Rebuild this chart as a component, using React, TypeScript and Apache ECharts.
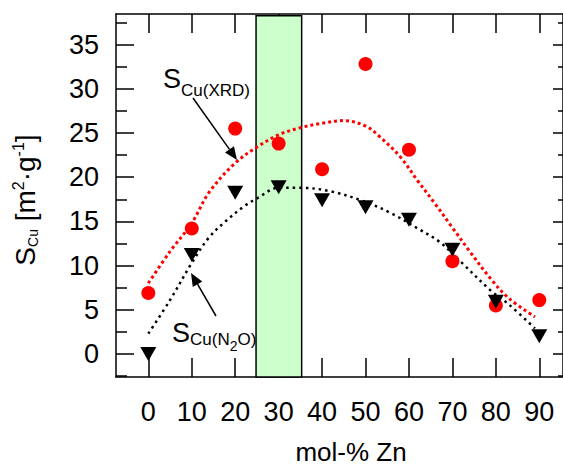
import React, { useEffect, useRef } from "react";
import * as echarts from "echarts";

// ---- data ----
const xValues = [0, 10, 20, 30, 40, 50, 60, 70, 80, 90];
const xrdValues = [6.9, 14.2, 25.5, 23.8, 20.9, 32.8, 23.1, 10.5, 5.5, 6.1];
const n2oValues = [0, 11.2, 18.25, 18.85, 17.4, 16.6, 15.2, 11.8, 5.9, 2.0];

const xrdFitX = [0, 5, 10, 14, 20, 25, 30, 35, 40, 45, 50, 53, 58, 62, 66, 70, 74, 79, 83, 89];
const xrdFitY = [8.0, 11.6, 14.8, 18.3, 21.6, 23.4, 24.8, 25.6, 26.1, 26.4, 25.8, 24.7, 22.3, 19.6, 17.0, 14.3, 11.6, 8.4, 6.3, 4.2];

const n2oFitX = [0, 5, 10, 14, 18, 22, 25, 30, 35, 42, 50, 56, 62, 67, 72, 79, 83, 89];
const n2oFitY = [2.3, 6.1, 10.3, 13.2, 15.1, 16.7, 17.6, 18.8, 18.8, 18.4, 17.2, 15.9, 14.2, 12.7, 10.4, 7.1, 5.6, 2.9];

const xTicks = [0, 10, 20, 30, 40, 50, 60, 70, 80, 90];
const yTicks = [0, 5, 10, 15, 20, 25, 30, 35];
const yMinorTicks = [-2.5, 2.5, 7.5, 12.5, 17.5, 22.5, 27.5, 32.5, 37.5];
const highlightRange = [24.8, 35.3];
const highlightTop = 38.25;

const X_MIN = -7.44;
const X_MAX = 95.46;
const Y_MIN = -2.6;
const Y_MAX = 38.46;

const FONT = "'Liberation Sans', Arial, sans-serif";

function arrow(x1: number, y1: number, x2: number, y2: number) {
  const len = 13;
  const hw = 5.5;
  const dx = x2 - x1;
  const dy = y2 - y1;
  const d = Math.sqrt(dx * dx + dy * dy);
  const ux = dx / d;
  const uy = dy / d;
  const bx = x2 - ux * len;
  const by = y2 - uy * len;
  return [
    {
      type: "line",
      shape: { x1, y1, x2: bx, y2: by },
      style: { stroke: "#000", lineWidth: 1.5 },
      z: 20,
    },
    {
      type: "polygon",
      shape: {
        points: [
          [x2, y2],
          [bx - uy * hw, by + ux * hw],
          [bx + uy * hw, by - ux * hw],
        ],
      },
      style: { fill: "#000" },
      z: 20,
    },
  ];
}

export default function App() {
  const ref = useRef<HTMLDivElement>(null);

  useEffect(() => {
    if (!ref.current) return;
    const chart = echarts.init(ref.current, undefined, { renderer: "svg" });

    const axisLine = { show: true, onZero: false, lineStyle: { color: "#000", width: 1.5 } };
    const hiddenLine = { show: false, onZero: false };
    const tickLine = { color: "#000", width: 1.5 };

    const option: any = {
      animation: false,
      backgroundColor: "#fff",
      grid: { left: 116, right: 0, top: 14, bottom: 91 },
      xAxis: [
        {
          type: "value",
          position: "bottom",
          min: X_MIN,
          max: X_MAX,
          axisLine,
          axisTick: { show: true, inside: true, length: 19, customValues: xTicks, lineStyle: tickLine },
          axisLabel: {
            show: true,
            customValues: xTicks,
            margin: 21,
            color: "#000",
            fontSize: 27,
            fontFamily: FONT,
          },
          splitLine: { show: false },
        },
        {
          type: "value",
          position: "top",
          min: X_MIN,
          max: X_MAX,
          axisLine,
          axisTick: { show: true, inside: true, length: 19, customValues: xTicks, lineStyle: tickLine },
          axisLabel: { show: false },
          splitLine: { show: false },
        },
      ],
      yAxis: [
        {
          type: "value",
          position: "left",
          min: Y_MIN,
          max: Y_MAX,
          axisLine,
          axisTick: { show: true, inside: true, length: 18, customValues: yTicks, lineStyle: tickLine },
          axisLabel: {
            show: true,
            customValues: yTicks,
            margin: 17,
            color: "#000",
            fontSize: 27,
            fontFamily: FONT,
          },
          splitLine: { show: false },
        },
        {
          type: "value",
          position: "left",
          min: Y_MIN,
          max: Y_MAX,
          axisLine: hiddenLine,
          axisTick: { show: true, inside: true, length: 11, customValues: yMinorTicks, lineStyle: tickLine },
          axisLabel: { show: false },
          splitLine: { show: false },
        },
        {
          type: "value",
          position: "right",
          min: Y_MIN,
          max: Y_MAX,
          axisLine,
          axisTick: { show: true, inside: true, length: 10, customValues: yTicks, lineStyle: tickLine },
          axisLabel: { show: false },
          splitLine: { show: false },
        },
        {
          type: "value",
          position: "right",
          min: Y_MIN,
          max: Y_MAX,
          axisLine: hiddenLine,
          axisTick: { show: true, inside: true, length: 5, customValues: yMinorTicks, lineStyle: tickLine },
          axisLabel: { show: false },
          splitLine: { show: false },
        },
      ],
      series: [
        {
          type: "scatter",
          data: [],
          z: 1,
          markArea: {
            silent: true,
            itemStyle: { color: "#ccffcc", borderColor: "#000", borderWidth: 1.5, opacity: 1 },
            data: [
              [
                { xAxis: highlightRange[0], yAxis: Y_MIN },
                { xAxis: highlightRange[1], yAxis: highlightTop },
              ],
            ],
          },
        },
        {
          type: "line",
          name: "XRD fit",
          data: xrdFitX.map((x, i) => [x, xrdFitY[i]]),
          showSymbol: false,
          smooth: 0.35,
          z: 3,
          lineStyle: { color: "#ff0000", width: 3, type: [3, 3], cap: "butt" },
        },
        {
          type: "line",
          name: "N2O fit",
          data: n2oFitX.map((x, i) => [x, n2oFitY[i]]),
          showSymbol: false,
          smooth: 0.35,
          z: 3,
          lineStyle: { color: "#000", width: 2.5, type: [2.5, 4], cap: "butt" },
        },
        {
          type: "scatter",
          name: "XRD",
          data: xValues.map((x, i) => [x, xrdValues[i]]),
          symbol: "circle",
          symbolSize: 14,
          z: 4,
          itemStyle: { color: "#ff0000", opacity: 1 },
        },
        {
          type: "scatter",
          name: "N2O",
          data: xValues.map((x, i) => [x, n2oValues[i]]),
          symbol: "triangle",
          symbolSize: [16, 14],
          symbolRotate: 180,
          z: 5,
          itemStyle: { color: "#000", opacity: 1 },
        },
      ],
      graphic: [
        {
          type: "text",
          x: 351,
          y: 452,
          z: 20,
          style: {
            text: "mol-% Zn",
            fill: "#000",
            fontSize: 26,
            fontFamily: FONT,
            align: "center",
            verticalAlign: "middle",
          },
        },
        {
          type: "text",
          x: 25,
          y: 200,
          rotation: Math.PI / 2,
          z: 20,
          style: {
            text: "{s|S}{b|Cu}{s| [m}{p|2}{s|·g}{p|-1}{s|]}",
            fill: "#000",
            fontFamily: FONT,
            align: "center",
            verticalAlign: "middle",
            rich: {
              s: { fontSize: 28, fontFamily: FONT, fill: "#000" },
              b: { fontSize: 14, fontFamily: FONT, fill: "#000", padding: [15, 0, 0, 0] },
              p: { fontSize: 16, fontFamily: FONT, fill: "#000", padding: [0, 0, 13, 0] },
            },
          },
        },
        {
          type: "text",
          x: 163,
          y: 79,
          z: 20,
          style: {
            text: "{s|S}{b|Cu(XRD)}",
            fill: "#000",
            fontFamily: FONT,
            align: "left",
            verticalAlign: "middle",
            rich: {
              s: { fontSize: 27, fontFamily: FONT, fill: "#000" },
              b: { fontSize: 17, fontFamily: FONT, fill: "#000", padding: [23, 0, 0, 0] },
            },
          },
        },
        {
          type: "text",
          x: 172,
          y: 333,
          z: 20,
          style: {
            text: "{s|S}{b|Cu(N}{c|2}{b|O)}",
            fill: "#000",
            fontFamily: FONT,
            align: "left",
            verticalAlign: "middle",
            rich: {
              s: { fontSize: 27, fontFamily: FONT, fill: "#000" },
              b: { fontSize: 17, fontFamily: FONT, fill: "#000", padding: [13, 0, 0, 0] },
              c: { fontSize: 14, fontFamily: FONT, fill: "#000", padding: [25, 0, 0, 0] },
            },
          },
        },
        ...arrow(193, 98, 237, 160),
        ...arrow(216, 316, 191, 273),
      ],
    };

    chart.setOption(option);
    return () => {
      chart.dispose();
    };
  }, []);

  return (
    <div
      ref={ref}
      style={{ position: "absolute", left: 0, top: 0, width: 563, height: 468, background: "#fff" }}
    />
  );
}
